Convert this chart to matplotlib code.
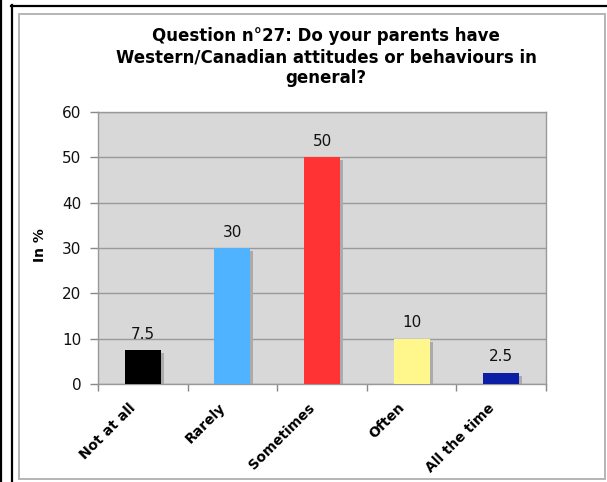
import matplotlib
matplotlib.use("Agg")
import matplotlib.pyplot as plt
import matplotlib.transforms as mtransforms
from matplotlib.lines import Line2D
from matplotlib.patches import Rectangle

categories = ["Not at all", "Rarely", "Sometimes", "Often", "All the time"]
values = [7.5, 30, 50, 10, 2.5]
value_labels = ["7.5", "30", "50", "10", "2.5"]
colors = ["#000000", "#4fb3ff", "#ff3333", "#fff68c", "#0c1ea6"]
y_ticks = [0, 10, 20, 30, 40, 50, 60]

W, H = 607, 482
fig = plt.figure(figsize=(W / 100, H / 100), dpi=100)
fig.patch.set_facecolor("white")

def fx(px):
    return px / W

def fy(py):
    return 1 - py / H

# Page frame: black rules and grey inner box
fig.add_artist(Line2D([fx(1.5), fx(1.5)], [0, 1], color="black", lw=1.6, transform=fig.transFigure))
fig.add_artist(Line2D([fx(11.5), fx(11.5)], [0, fy(5)], color="black", lw=1.6, transform=fig.transFigure))
fig.add_artist(Line2D([fx(11), 1], [fy(5.5), fy(5.5)], color="black", lw=1.6, transform=fig.transFigure))
fig.add_artist(Rectangle((fx(18.5), fy(478.5)), fx(605) - fx(18.5), fy(13.5) - fy(478.5),
                         fill=False, edgecolor="#b4b4b4", lw=1.4, transform=fig.transFigure))

ax = fig.add_axes([fx(98), fy(384), fx(546) - fx(98), fy(112) - fy(384)])
ax.set_facecolor("#d8d8d8")

x = list(range(len(categories)))
ax.set_xlim(-0.5, len(categories) - 0.5)
ax.set_ylim(0, 60)

ax.yaxis.grid(True, color="#9a9a9a", lw=1.0)
ax.set_axisbelow(True)

# Drop shadows behind bars
shadow_tr = mtransforms.offset_copy(ax.transData, fig=fig, x=3, y=-3, units="dots")
ax.bar(x, values, width=0.4, color="#ababab", transform=shadow_tr, zorder=2)
ax.bar(x, values, width=0.4, color=colors, zorder=3)

for xi, v, lab in zip(x, values, value_labels):
    ax.annotate(lab, (xi, v), xytext=(0, 6), textcoords="offset points",
                ha="center", va="bottom", fontsize=11, color="#111111")

ax.set_yticks(y_ticks)
ax.set_yticklabels([str(t) for t in y_ticks], fontsize=11, color="#111111")
ax.set_xticks(x)
ax.set_xticklabels(categories, rotation=45, ha="right", rotation_mode="anchor",
                   fontsize=10, fontweight="bold")
ax.tick_params(axis="x", length=0, pad=12)
ax.tick_params(axis="y", length=6, color="#888888", width=1, pad=6)

# shift the slanted category labels a little to the left
shift = mtransforms.ScaledTranslation(-14 / 100, 0, fig.dpi_scale_trans)
for lbl in ax.get_xticklabels():
    lbl.set_transform(lbl.get_transform() + shift)

# category boundary ticks below the axis
ax.set_xticks([i - 0.5 for i in range(len(categories) + 1)], minor=True)
ax.tick_params(axis="x", which="minor", length=5, color="#888888", width=1)

for side in ["top", "right", "bottom", "left"]:
    ax.spines[side].set_color("#999999")
    ax.spines[side].set_linewidth(1.0)

fig.text(fx(40), fy(245), "In %", rotation=90, ha="center", va="center",
         fontsize=10, fontweight="bold")

fig.text(fx(326), fy(57), "Question n°27: Do your parents have\nWestern/Canadian attitudes or behaviours in\ngeneral?",
         ha="center", va="center", fontsize=12, fontweight="bold", linespacing=1.2)

fig.savefig("out.png", dpi=100)
